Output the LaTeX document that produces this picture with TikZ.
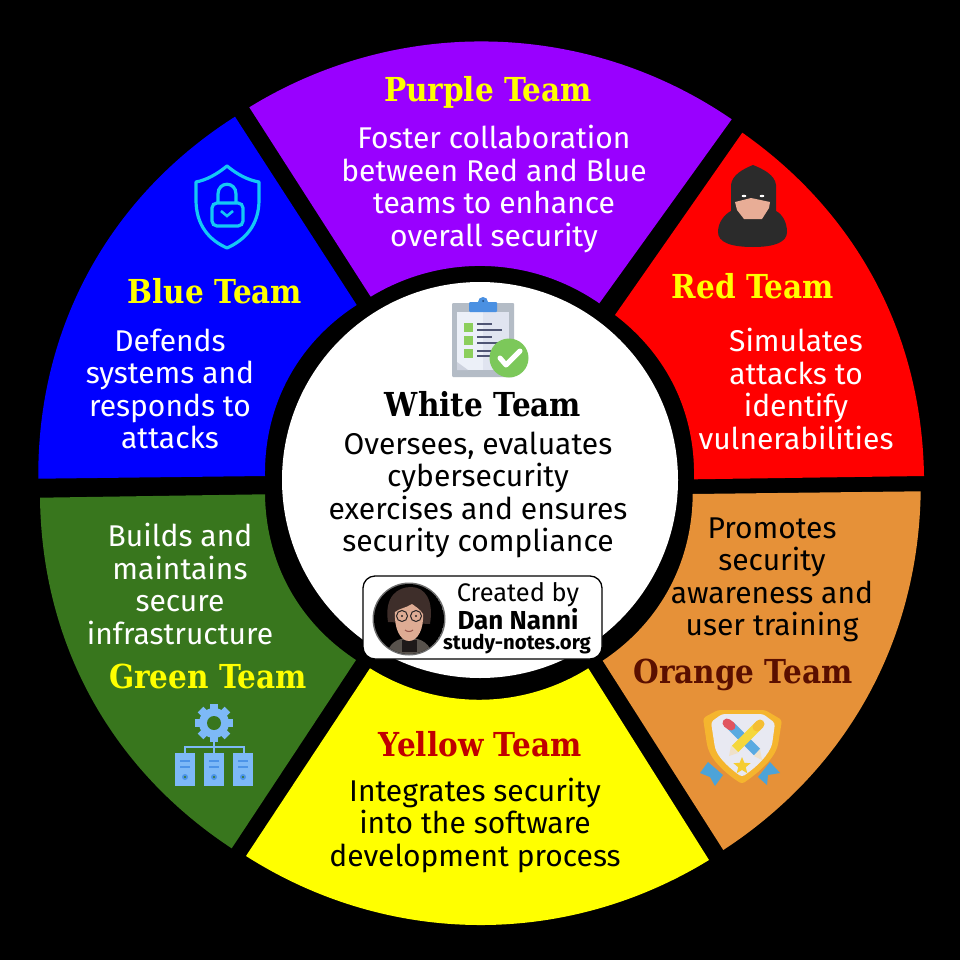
\documentclass[tikz,border=0pt]{standalone}
\usepackage{fontspec}
\setmainfont{Fira Sans}
\newfontfamily\ttlfont[FakeStretch=0.895]{DejaVu Serif}
\definecolor{cpurple}{HTML}{9900FF}
\definecolor{cblue}{HTML}{0000FF}
\definecolor{cred}{HTML}{FF0000}
\definecolor{corange}{HTML}{E69138}
\definecolor{cyellow}{HTML}{FFFF00}
\definecolor{cgreen}{HTML}{38761D}
\definecolor{cdarkred}{HTML}{C00000}
\definecolor{cbrown}{HTML}{5A0F00}
\definecolor{ccyan}{HTML}{14C8F5}
\definecolor{csrv}{HTML}{7DB9F7}
\definecolor{csrvd}{HTML}{4C94E8}
\definecolor{chood}{HTML}{2B2B2B}
\definecolor{cskin}{HTML}{E8AD96}
\definecolor{cgold}{HTML}{F5B52E}
\tikzset{
  body/.style={align=center,inner sep=0pt,font=\fontsize{30}{32.5}\selectfont},
  title/.style={inner sep=0pt,font=\ttlfont\bfseries\fontsize{33}{36}\selectfont},
  outerarc/.style={bend left=#1,looseness=0.93},
  innerarc/.style={bend right=#1,looseness=0.93},
}
\begin{document}
\begin{tikzpicture}[x=1pt,y=-1pt]
\useasboundingbox (0,0) rectangle (960,960);
\fill[black] (0,0) rectangle (960,960);
% sectors, drawn clockwise: outer arc, then inner arc back
\fill[cpurple] (249.3,107.3) to[outerarc=33] (731.7,119.3) -- (599.3,303.3) to[innerarc=33] (370.7,296.7) -- cycle;
\fill[cred] (742.3,132.7) to[outerarc=27] (924,476) -- (694,479.3) to[innerarc=27] (615,315) -- cycle;
\fill[corange] (920.7,491.3) to[outerarc=28] (723.3,850) -- (602.7,660.7) to[innerarc=28] (692.7,494) -- cycle;
\fill[cyellow] (709,860) to[outerarc=32] (246,856) -- (370,668.3) to[innerarc=32] (588.3,668.3) -- cycle;
\fill[cgreen] (231.7,848.3) to[outerarc=28] (40,497.7) -- (265,494.3) to[innerarc=28] (356,660) -- cycle;
\fill[cblue] (38.3,478.7) to[outerarc=29] (235,116.7) -- (356.7,305) to[innerarc=29] (265,476) -- cycle;
\fill[white] (480,480) circle[radius=198];
% clipboard
\fill[rounded corners=1pt,color={rgb,255:red,180;green,188;blue,198}] (452,303) rectangle (514,377);
\fill[color={rgb,255:red,236;green,240;blue,248}] (457,312) rectangle (483,370);
\fill[color={rgb,255:red,224;green,228;blue,240}] (483,312) rectangle (509,370);
\fill[color={rgb,255:red,205;green,210;blue,222}] (457,362) -- (468,370) -- (457,370) -- cycle;
\fill[color={rgb,255:red,74;green,144;blue,226},rounded corners=1pt] (469,302) rectangle (497,312);
\fill[color={rgb,255:red,74;green,144;blue,226}] (483,302) circle[radius=5];
\fill[color={rgb,255:red,30;green,70;blue,120}] (483,301) circle[radius=1];
\foreach \yy in {323,336,349} {\fill[color={rgb,255:red,140;green,207;blue,92}] (464,\yy) rectangle (473,\yy+9);}
\foreach \yy/\w in {324/492,330/502,337/492,343/502,351/492,356/502} {\draw[line width=1.8pt,color={rgb,255:red,79;green,85;blue,116}] (477,\yy) -- (\w,\yy);}
\fill[color={rgb,255:red,124;green,200;blue,90}] (509,358) circle[radius=19.5];
\draw[white,line width=5pt,line cap=round,line join=round] (500,358) -- (506,365) -- (520,351);
% ninja
\fill[chood] (718,232) .. controls (718,222) and (725,214) .. (731,211) -- (731,185) .. controls (732,175) and (743,169) .. (753,165) .. controls (763,169) and (775,175) .. (776,185) -- (776,211) .. controls (782,214) and (787,222) .. (787,232) .. controls (787,242) and (775,247) .. (753,247) .. controls (730,247) and (718,242) .. (718,232) -- cycle;
\fill[cskin] (735,202) -- (751,198) -- (770,202) -- (769,208) -- (762,219) -- (744,219) -- (737,210) -- cycle;
\fill[white] (744,196) ellipse[x radius=2.4,y radius=1.2];
\fill[white] (762,196) ellipse[x radius=2.4,y radius=1.2];
% shield
\draw[ccyan,line width=3.2pt,line join=round] (227,166) .. controls (238,175) and (248,180) .. (259,182) -- (259,200) .. controls (259,225) and (245,240) .. (227,248) .. controls (209,240) and (196,225) .. (196,200) -- (196,182) .. controls (206,180) and (216,175) .. (227,166) -- cycle;
\draw[ccyan,line width=3.2pt,rounded corners=5pt] (212,203) rectangle (243,226);
\draw[ccyan,line width=3.2pt] (218,203) -- (218,194) .. controls (218,181) and (236,181) .. (236,194) -- (236,203);
\draw[ccyan,line width=2.6pt] (221,211) -- (227,216) -- (233,211);
% servers
\foreach \ang in {0,45,...,315} {\fill[csrv,rotate around={\ang:(214,723)}] (210,704) rectangle (218,712);}
\fill[csrv] (214,723) circle[radius=15];
\fill[cgreen] (214,723) circle[radius=7];
\draw[csrv,line width=1.5pt] (214,738) -- (214,753);
\draw[csrv,line width=1.5pt] (185,753) -- (185,747) -- (244,747) -- (244,753);
\foreach \xx in {175,204,233} {
  \fill[csrv] (\xx,753) rectangle (\xx+20,786);
  \draw[csrvd,line width=1.6pt] (\xx+5,761) -- (\xx+15,761);
  \draw[csrvd,line width=1.6pt] (\xx+5,767) -- (\xx+15,767);
  \fill[csrvd] (\xx+10,777) circle[radius=3];
  \fill[cgreen] (\xx+10,777) circle[radius=1.2];
}
% badge
\fill[color={rgb,255:red,77;green,163;blue,216}] (708,762) -- (723,775) -- (715,786) -- (710,777) -- (700,773) -- cycle;
\fill[color={rgb,255:red,77;green,163;blue,216}] (770,762) -- (780,773) -- (768,775) -- (767,785) -- (758,777) -- cycle;
\fill[cgold,rounded corners=3pt] (703,718) -- (718,710) -- (765,710) -- (782,720) -- (778,745) .. controls (772,762) and (755,775) .. (742,784) .. controls (728,775) and (712,762) .. (707,745) -- cycle;
\fill[color={rgb,255:red,232;green,233;blue,242},rounded corners=3pt] (711,722) -- (722,714) -- (763,714) -- (775,723) -- (772,745) .. controls (765,760) and (752,770) .. (742,777) .. controls (732,770) and (720,760) .. (715,748) -- cycle;
\draw[color={rgb,255:red,90;green,170;blue,225},line width=9pt] (731,726) -- (757,752);
\fill[color={rgb,255:red,240;green,225;blue,200}] (754,756) -- (760,749) -- (762,760) -- cycle;
\draw[color={rgb,255:red,225;green,85;blue,95},line width=9pt,line cap=round] (727,723) -- (731,726);
\draw[color={rgb,255:red,245;green,215;blue,60},line width=9pt] (757,727) -- (735,749);
\fill[color={rgb,255:red,240;green,225;blue,200}] (738,753) -- (731,746) -- (729,756) -- cycle;
\draw[color={rgb,255:red,245;green,190;blue,50},line width=9pt,line cap=round] (760,724) -- (757,727);
\fill[color={rgb,255:red,245;green,205;blue,50}] plot[samples=11,domain=0:360] ({742+(mod(\x,72)<1?9:4)*sin(\x)},{766-(mod(\x,72)<1?9:4)*cos(\x)}) -- cycle;
% author box
\draw[black,fill=white,line width=1.3pt,rounded corners=12pt] (363,576) rectangle (602,659);
\fill[color={rgb,255:red,110;green,110;blue,110}] (409,619) circle[radius=36.5];
\begin{scope}
\clip (409,619) circle[radius=35];
\fill[black] (409,619) circle[radius=35];
\fill[color={rgb,255:red,88;green,82;blue,76}] (385,660) .. controls (388,642) and (398,638) .. (409,638) .. controls (420,638) and (431,642) .. (434,660) -- cycle;
\fill[color={rgb,255:red,30;green,25;blue,25}] (402,652) -- (402,640) -- (417,640) -- (417,652) -- cycle;
\fill[color={rgb,255:red,62;green,46;blue,42}] (388,622) .. controls (384,596) and (398,587) .. (411,587) .. controls (425,587) and (434,600) .. (430,624) -- cycle;
\fill[color={rgb,255:red,222;green,172;blue,148}] (395,612) .. controls (400,608) and (406,608) .. (412,604) .. controls (416,607) and (420,609) .. (423,614) .. controls (424,628) and (418,641) .. (409,641) .. controls (400,641) and (394,628) .. (395,612) -- cycle;
\draw[color={rgb,255:red,40;green,35;blue,35},line width=1pt] (402,616) circle[radius=5.5];
\draw[color={rgb,255:red,40;green,35;blue,35},line width=1pt] (416,616) circle[radius=5.5];
\fill[color={rgb,255:red,40;green,35;blue,35}] (402,616) circle[radius=1.2];
\fill[color={rgb,255:red,40;green,35;blue,35}] (416,616) circle[radius=1.2];
\draw[color={rgb,255:red,150;green,85;blue,75},line width=1pt] (405,630) .. controls (407,632) and (411,632) .. (413,630);
\end{scope}
% text
\node[title,text=cyellow] (ptitle) at (488,92) {Purple Team};
\node[body,text=white] (pbody) at (494,189) {Foster collaboration\\between Red and Blue\\teams to enhance\\overall security};
\node[title,text=cyellow] (rtitle) at (753,286) {Red Team};
\node[body,text=white] (rbody) at (796,389) {Simulates\\attacks to\\identify\\vulnerabilities};
\node[title,text=cyellow] (btitle) at (215,291) {Blue Team};
\node[body,text=white] (bbody) at (170,389) {Defends\\systems and\\responds to\\attacks};
\node[title,text=black] (wtitle) at (483,404) {White Team};
\node[body,text=black] (wbody) at (478,495) {Oversees, evaluates\\cybersecurity\\exercises and ensures\\security compliance};
\node[body,text=white] (gbody) at (180,584) {Builds and\\maintains\\secure\\infrastructure};
\node[title,text=cyellow] (gtitle) at (208,676) {Green Team};
\node[body,text=black] (obody) at (772,580) {Promotes\\security\\awareness and\\user training};
\node[title,text=cbrown] (otitle) at (743,675) {Orange Team};
\node[title,text=cdarkred] (ytitle) at (480,744) {Yellow Team};
\node[body,text=black] (ybody) at (475,825) {Integrates security\\into the software\\development process};
\node[inner sep=0pt,font=\fontsize{25.4}{27}\selectfont] (cby) at (518,595) {Created by};
\node[inner sep=0pt,font=\bfseries\fontsize{26}{28}\selectfont] (dan) at (518,619) {Dan Nanni};
\node[inner sep=0pt,font=\bfseries\fontsize{20.3}{24}\selectfont] (site) at (517,644) {study-notes.org};
\end{tikzpicture}
\end{document}
